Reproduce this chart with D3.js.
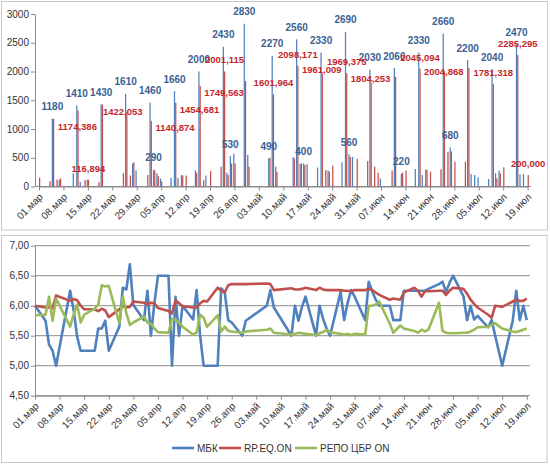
<!DOCTYPE html>
<html><head><meta charset="utf-8">
<script src="https://cdn.jsdelivr.net/npm/d3@7"></script>
<style>
body{margin:0;background:#fff;}
text{font-family:"Liberation Sans",Arial,sans-serif;}
</style>
</head><body>
<svg id="c" width="550" height="465"></svg>
<script>
const year = 2013;
const monthNames = ["янв","фев","мар","апр","май","июн","июл","авг","сен","окт","ноя","дек"];
const dates = [
"03-01",
"03-04","03-05","03-06","03-07",
"03-11","03-12","03-13","03-14","03-15",
"03-18","03-19","03-20","03-21","03-22",
"03-25","03-26","03-27","03-28","03-29",
"04-01","04-02","04-03","04-04","04-05",
"04-08","04-09","04-10","04-11","04-12",
"04-15","04-16","04-17","04-18","04-19",
"04-22","04-23","04-24","04-25","04-26",
"04-29","04-30",
"05-06","05-07","05-08",
"05-13","05-14","05-15","05-16","05-17",
"05-20","05-21","05-22","05-23","05-24",
"05-27","05-28","05-29","05-30","05-31",
"06-03","06-04","06-05","06-06","06-07",
"06-10","06-11","06-13","06-14",
"06-17","06-18","06-19","06-20","06-21",
"06-24","06-25","06-26","06-27","06-28",
"07-01","07-02","07-03","07-04","07-05",
"07-08","07-09","07-10","07-11","07-12",
"07-15","07-16","07-17","07-18","07-19"];

// top chart: volumes
const mbkVolume = [
0,
0,1180,0,120,
230,1410,80,0,120,
0,1430,0,0,0,
0,1610,0,400,280,
0,1460,290,230,140,
150,1660,150,200,0,
280,2000,0,190,0,
0,2430,240,530,570,
2830,550,
490,2270,345,
510,2560,390,400,390,
330,2330,0,280,0,
420,2690,560,515,0,
0,2030,0,0,140,
0,2060,220,0,
305,2330,200,298,0,
0,2660,0,680,0,
0,2200,217,200,160,
130,2040,230,275,0,
0,2470,212,217,0];
const repoVolume = [
155,
90,1174.386,120,140,
0,1320,0,110,116.894,
75,1422.053,0,0,0,
230,1300,190,420,0,
200,1140.874,280,180,90,
0,1454.681,0,190,190,
240,1749.563,110,0,270,
345,2001.115,200,400,400,
1835,345,
500,1601.964,258,
490,2098.171,403,374,0,
0,1961.009,287,258,362,
0,1969.375,515,0,478,
443,1804.253,345,240,0,
275,1905,240,275,
0,2045.094,0,287,258,
298,2004.868,605,610,432,
432,2060,0,0,0,
0,1781.318,140,230,334,
0,2285.295,0,0,200];
const blueLabelDates = ["03-05","03-12","03-19","03-26","04-02","04-03","04-09","04-16","04-23","04-25","04-29",
  "05-06","05-07","05-14","05-16","05-21","05-28","05-29","06-04","06-11","06-13","06-18","06-25","06-27","07-02","07-09","07-16"];
const redLabelDates = ["03-05","03-15","03-19","04-02","04-09","04-16","04-23","05-07","05-14","05-21","05-28",
  "06-04","06-18","06-25","07-09","07-16","07-19"];
// labels that were dragged away from their bar: anchor date and value level of the label centre
const redLabelAnchors = [
  {date:"03-05", at:"03-12", level:1035},
  {date:"03-19", at:"03-25", level:1296},
  {date:"04-02", at:"04-09", level:1017},
  {date:"04-09", at:"04-16", level:1330},
  {date:"04-16", at:"04-23", level:1626},
  {date:"05-21", at:"05-21", level:2026},
  {date:"06-04", at:"06-04", level:1870},
  {date:"06-25", at:"06-25", level:1991}];
const topTicks = [0,500,1000,1500,2000,2500,3000];

// bottom chart: rates
const mbkRate = [
6.00,
5.75,5.35,5.25,5.00,
6.25,5.93,5.48,5.25,5.25,
5.25,5.62,5.62,5.75,5.25,
5.65,6.30,6.27,6.69,6.01,
5.76,6.25,5.50,6.05,6.50,
6.50,5.00,6.15,5.50,6.00,
5.77,6.26,5.50,5.00,5.00,
5.00,6.29,6.23,5.76,5.72,
5.50,5.75,
6.00,6.26,5.97,
5.50,6.00,5.75,5.98,6.15,
5.50,6.00,5.78,5.62,5.50,
6.23,5.76,6.05,6.26,6.15,
5.76,6.40,6.24,6.10,6.00,
6.00,5.76,5.76,6.25,
6.25,6.25,6.25,6.25,6.28,
6.36,6.40,6.23,6.38,6.50,
6.15,5.76,6.00,5.77,5.83,
5.64,5.76,5.50,5.25,5.00,
5.75,6.25,5.76,6.00,5.76];
const rpEqRate = [
6.00,
5.97,5.97,5.96,6.17,
6.08,6.11,6.09,6.00,5.94,
5.94,5.91,5.95,5.92,5.81,
5.94,5.99,5.97,5.98,6.07,
6.05,6.02,6.05,6.04,5.96,
5.91,5.87,6.09,6.04,5.99,
5.97,5.97,6.04,6.08,6.07,
6.30,6.25,6.22,6.34,6.36,
6.36,6.36,
6.37,6.36,6.26,
6.29,6.27,6.27,6.28,6.30,
6.26,6.30,6.27,6.26,6.26,
6.26,6.25,6.25,6.24,6.26,
6.26,6.28,6.26,6.22,6.18,
6.10,6.12,6.10,6.22,
6.30,6.25,6.15,6.24,6.24,
6.25,6.25,6.18,6.25,6.30,
6.28,6.20,6.10,6.03,5.97,
5.85,5.80,6.00,5.99,5.98,
6.07,6.10,6.08,6.08,6.12];
const repoCbrRate = [
5.84,
5.85,6.15,5.75,6.12,
5.65,5.85,6.02,5.72,5.85,
5.95,6.02,6.34,6.32,6.33,
5.71,6.15,5.88,5.68,5.72,
5.82,5.72,5.70,5.62,5.56,
5.55,5.78,5.76,5.72,5.65,
5.52,5.55,5.85,5.80,5.65,
5.84,5.57,5.65,5.58,5.57,
5.55,5.57,
5.60,5.62,5.55,
5.52,5.53,5.55,5.54,5.53,
5.51,5.54,5.56,5.60,5.56,
5.53,5.52,5.53,5.51,5.53,
5.52,6.00,6.00,6.02,6.07,
5.70,5.55,5.67,5.62,
5.58,5.55,5.60,5.57,5.60,
6.05,5.58,5.55,5.54,5.54,
5.55,5.55,5.57,5.60,5.64,
5.65,5.68,5.71,5.66,5.62,
5.57,5.56,5.58,5.60,5.62];
const bottomTicks = [4.5,5.0,5.5,6.0,6.5,7.0];
const seriesNames = ["МБК","RP.EQ.ON","РЕПО ЦБР ON"];
const seriesColors = ["#4F81BD","#C0504D","#9BBB59"];

// ---------------------------------------------------------------
const parse = d3.timeParse("%Y-%m-%d");
const toDate = s => parse(year + "-" + s);
const D = dates.map(toDate);
const start = toDate("03-01"), end = toDate("07-19");
const weekTicks = d3.timeDay.range(start, d3.timeDay.offset(end, 1), 7);
const fmtDate = d => d3.timeFormat("%d")(d) + "." + monthNames[d.getMonth()];
const fmtRed = v => d3.format(".3f")(v).replace(".", ",");
const fmtRate = v => d3.format(".2f")(v).replace(".", ",");

const svg = d3.select("#c");
svg.append("rect").attr("x",1.5).attr("y",1.5).attr("width",546).attr("height",228.5)
  .attr("fill","#fff").attr("stroke","#c8c8c8");
svg.append("rect").attr("x",1.5).attr("y",235.5).attr("width",545.5).attr("height",227)
  .attr("fill","#fff").attr("stroke","#c8c8c8");

const axisColor = "#8c8c8c", labelColor = "#333333";

// ---------------- TOP -----------------
const xT = d3.scaleTime().domain([start, end]).range([39, 527.6]);
const yT = d3.scaleLinear().domain([0, 3000]).range([186.5, 14]);
const topG = svg.append("g");

const yAxT = topG.append("g").attr("transform","translate(35,0)")
  .call(d3.axisLeft(yT).tickValues(topTicks).tickSize(4).tickSizeOuter(0).tickFormat(d3.format("d")));
const xAxT = topG.append("g").attr("transform","translate(0,186.5)")
  .call(d3.axisBottom(xT).tickValues(weekTicks).tickSize(4).tickSizeOuter(0).tickFormat(fmtDate));
topG.append("line").attr("x1",35).attr("x2",531).attr("y1",186.5).attr("y2",186.5).attr("stroke",axisColor);

const bw = 1.25;
topG.append("g").selectAll("rect").data(D.map((d,i)=>({d, v:mbkVolume[i]})).filter(o=>o.v>0))
  .join("rect").attr("x",o=>xT(o.d)-bw).attr("width",bw)
  .attr("y",o=>yT(o.v)).attr("height",o=>yT(0)-yT(o.v)).attr("fill","#4F81BD");
topG.append("g").selectAll("rect").data(D.map((d,i)=>({d, v:repoVolume[i]})).filter(o=>o.v>0))
  .join("rect").attr("x",o=>xT(o.d)).attr("width",bw)
  .attr("y",o=>yT(o.v)).attr("height",o=>yT(0)-yT(o.v)).attr("fill","#C0504D");

// blue labels
topG.append("g").selectAll("text").data(blueLabelDates.map(s=>{const i=dates.indexOf(s);return {d:D[i], v:mbkVolume[i]};}))
  .join("text").attr("x",o=>xT(o.d)-0.6).attr("y",o=>yT(o.v)-12).attr("dy","0.35em")
  .attr("text-anchor","middle").attr("font-size",10).attr("font-weight","bold")
  .attr("fill","#3a6293").text(o=>o.v);
// red labels
topG.append("g").selectAll("text").data(redLabelDates.map(s=>{
    const i=dates.indexOf(s); const a=redLabelAnchors.find(r=>r.date===s);
    return a ? {x:xT(toDate(a.at)), y:yT(a.level), v:repoVolume[i]}
             : {x:xT(D[i])+0.6, y:yT(repoVolume[i])-11.5, v:repoVolume[i]};}))
  .join("text").attr("x",o=>o.x).attr("y",o=>o.y).attr("dy","0.35em")
  .attr("text-anchor","middle").attr("font-size",9.5).attr("font-weight","bold")
  .attr("fill","#c4262a").text(o=>fmtRed(o.v));

// ---------------- BOTTOM -----------------
const xB = d3.scaleTime().domain([start, end]).range([35, 526.8]);
const yB = d3.scaleLinear().domain([4.5, 7]).range([395.7, 245.7]);
const botG = svg.append("g");
botG.append("g").selectAll("line").data(bottomTicks.slice(1)).join("line")
  .attr("x1",35).attr("x2",530).attr("y1",d=>yB(d)).attr("y2",d=>yB(d)).attr("stroke","#8c8c8c");
const yAxB = botG.append("g").attr("transform","translate(35,0)")
  .call(d3.axisLeft(yB).tickValues(bottomTicks).tickSize(4).tickSizeOuter(0).tickFormat(fmtRate));
const xAxB = botG.append("g").attr("transform","translate(0,395.7)")
  .call(d3.axisBottom(xB).tickValues(weekTicks).tickSize(4).tickSizeOuter(0).tickFormat(fmtDate));
botG.append("line").attr("x1",35).attr("x2",530).attr("y1",395.7).attr("y2",395.7).attr("stroke",axisColor);

[yAxT, xAxT, yAxB, xAxB].forEach(g=>{
  g.select(".domain").attr("stroke",axisColor);
  g.selectAll(".tick line").attr("stroke",axisColor);
  g.selectAll("text").attr("fill",labelColor).attr("font-size",10)
    .style("font-family","'Liberation Sans',Arial,sans-serif");
});
[yAxT, yAxB].forEach(g=>g.selectAll("text").attr("x",-6));
[xAxT, xAxB].forEach(g=>g.selectAll("text").attr("y",0).attr("dy",null)
  .attr("transform","translate(4,11) rotate(-45)").style("text-anchor","end"));

const line = d3.line().x(p=>xB(p.d)).y(p=>yB(p.v));
[mbkRate, rpEqRate, repoCbrRate].forEach((arr,k)=>{
  botG.append("path").datum(D.map((d,i)=>({d, v:arr[i]})))
    .attr("d", line).attr("fill","none").attr("stroke",seriesColors[k])
    .attr("stroke-width",2.6).attr("stroke-linejoin","round");
});

// legend
const legX = [172, 219, 295];
const leg = botG.append("g");
seriesNames.forEach((n,k)=>{
  leg.append("line").attr("x1",legX[k]).attr("x2",legX[k]+22).attr("y1",448).attr("y2",448)
    .attr("stroke",seriesColors[k]).attr("stroke-width",2.6);
  leg.append("text").attr("x",legX[k]+25).attr("y",448).attr("dy","0.35em")
    .attr("font-size",10).attr("fill",labelColor).text(n);
});
</script>
</body></html>
